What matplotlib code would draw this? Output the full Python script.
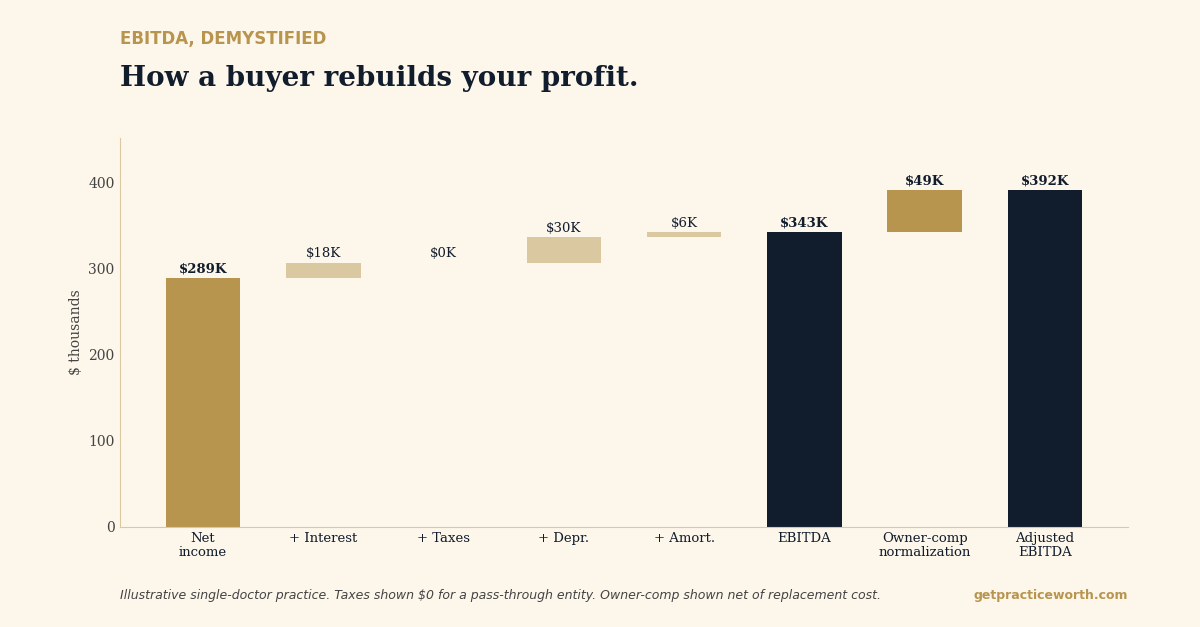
import numpy as np
import matplotlib.pyplot as plt

# data
categories = ["Net\nincome", "+ Interest", "+ Taxes", "+ Depr.", "+ Amort.",
              "EBITDA", "Owner-comp\nnormalization", "Adjusted\nEBITDA"]
values = [289, 18, 0, 30, 6, 343, 49, 392]
kinds = ["total", "step", "step", "step", "step", "total", "adj", "total"]

BG = "#fdf6ea"
GOLD = "#b8954f"
LIGHT = "#d9c8a0"
NAVY = "#111c2d"

fig = plt.figure(figsize=(12, 6.27), dpi=100, facecolor=BG)
ax = fig.add_axes([0.1, 0.16, 0.84, 0.62], facecolor=BG)

running = 0
x = np.arange(len(categories))
for i, (v, k) in enumerate(zip(values, kinds)):
    if k == "total":
        bottom, h = 0, v
        color = GOLD if i == 0 else NAVY
        running = v
        label_y = v
        bold = True
    else:
        bottom, h = running, v
        color = LIGHT if k == "step" else GOLD
        running += v
        label_y = running
        bold = k == "adj"
    ax.bar(i, h, bottom=bottom, width=0.62, color=color)
    ax.text(i, label_y + 2.5, f"${v}K", ha="center", va="bottom",
            fontsize=9.5, family="DejaVu Serif", color=NAVY,
            fontweight="bold" if bold else "normal")

ax.set_xlim(-0.69, 7.69)
ax.set_ylim(0, 452)
ax.set_yticks([0, 100, 200, 300, 400])
ax.set_xticks(x)
ax.set_xticklabels(categories, family="DejaVu Serif", fontsize=9.5, color=NAVY,
                   linespacing=1.1)
for t in ax.get_yticklabels():
    t.set_family("DejaVu Serif")
    t.set_fontsize(10)
    t.set_color("#444444")
ax.tick_params(length=0, pad=4)
ax.set_ylabel("$ thousands", family="DejaVu Serif", fontsize=10, color="#444444")
for s in ["top", "right"]:
    ax.spines[s].set_visible(False)
for s in ["left", "bottom"]:
    ax.spines[s].set_color("#d9c8a0")

fig.text(0.1, 0.923, "EBITDA, DEMYSTIFIED", fontsize=12, fontweight="bold",
         color=GOLD, va="bottom", family="DejaVu Sans")
fig.text(0.1, 0.854, "How a buyer rebuilds your profit.", fontsize=20,
         fontweight="bold", color=NAVY, va="bottom", family="DejaVu Serif")
fig.text(0.1, 0.045, "Illustrative single-doctor practice. Taxes shown $0 for a pass-through entity. "
         "Owner-comp shown net of replacement cost.", fontsize=9, style="italic",
         color="#444444", family="DejaVu Sans")
fig.text(0.94, 0.045, "getpracticeworth.com", fontsize=9, fontweight="bold",
         color=GOLD, ha="right", family="DejaVu Sans")

fig.savefig("out.png", dpi=100, facecolor=BG)
